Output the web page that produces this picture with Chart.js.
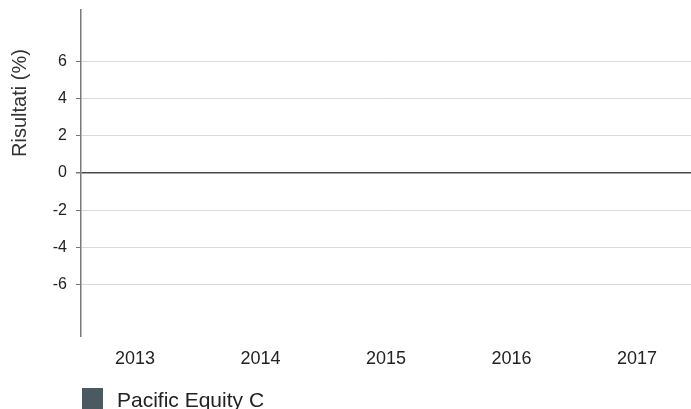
<!DOCTYPE html>
<html>
<head>
<meta charset="utf-8">
<script src="https://cdn.jsdelivr.net/npm/chart.js@4/dist/chart.umd.min.js"></script>
<style>
  html, body { margin: 0; padding: 0; background: #fff; overflow: hidden; }
  #wrap { width: 691px; height: 409px; position: relative; }
</style>
</head>
<body>
<div id="wrap"><canvas id="resultsChart" width="691" height="409"></canvas></div>
<script>
// Years on the x axis and the (empty) yearly results of the fund
const years = ['2013', '2014', '2015', '2016', '2017'];
const results = [null, null, null, null, null];
const yTicks = [-6, -4, -2, 0, 2, 4, 6];
const seriesName = 'Pacific Equity C';
const axisTitle = 'Risultati (%)';

const FONT = "'Liberation Sans', Arial, sans-serif";

// y axis title sits high up, next to the upper ticks
const axisTitlePlugin = {
    id: 'axisTitle',
    afterDraw(chart) {
        const ctx = chart.ctx;
        ctx.save();
        ctx.translate(26, 103);
        ctx.rotate(-Math.PI / 2);
        ctx.font = '20px ' + FONT;
        ctx.fillStyle = '#333';
        ctx.textAlign = 'center';
        ctx.textBaseline = 'alphabetic';
        ctx.fillText(axisTitle, 0, 0);
        ctx.restore();
    }
};

// legend drawn under the axis, partly cut by the bottom edge
const legendPlugin = {
    id: 'bottomLegend',
    afterDraw(chart) {
        const ctx = chart.ctx;
        const ds = chart.data.datasets[0];
        ctx.save();
        ctx.fillStyle = ds.backgroundColor;
        ctx.fillRect(82, 388, 21, 21);
        ctx.font = '21px ' + FONT;
        ctx.fillStyle = '#222';
        ctx.textBaseline = 'alphabetic';
        ctx.fillText(ds.label, 117, 407);
        ctx.restore();
    }
};

const ctx = document.getElementById('resultsChart').getContext('2d');
const resultsChart = new Chart(ctx, {
    type: 'bar',
    data: {
        datasets: [{
            label: seriesName,
            data: results.map((v, i) => ({ x: i, y: v })),
            backgroundColor: '#4b5960'
        }]
    },
    options: {
        responsive: false,
        animation: false,
        layout: { padding: { top: 10, left: 0, right: 0, bottom: 0 } },
        plugins: {
            legend: { display: false },
            tooltip: { enabled: false }
        },
        scales: {
            x: {
                type: 'linear',
                offset: false,
                min: -0.43,
                max: 4.43,
                afterBuildTicks: s => { s.ticks = years.map((y, i) => ({ value: i })); },
                afterFit: s => { s.height = 73; s.paddingLeft = 0; s.paddingRight = 0; },
                grid: { display: false, drawTicks: false },
                border: { display: false },
                ticks: {
                    callback: v => years[v],
                    font: { family: FONT, size: 18 },
                    color: '#222',
                    padding: 12,
                    maxRotation: 0
                }
            },
            y: {
                min: -8.75,
                max: 8.75,
                afterBuildTicks: s => { s.ticks = yTicks.map(v => ({ value: v })); },
                afterFit: s => { s.width = 81; s.paddingTop = 0; s.paddingBottom = 0; },
                grid: {
                    color: c => c.tick && c.tick.value === 0 ? '#4a4a4a' : '#dadada',
                    lineWidth: c => c.tick && c.tick.value === 0 ? 1.5 : 1,
                    tickColor: '#777',
                    tickLength: 5
                },
                border: { display: true, color: '#7a7a7a', width: 1.5 },
                ticks: {
                    font: { family: FONT, size: 16 },
                    color: '#222',
                    padding: 9
                }
            }
        }
    },
    plugins: [axisTitlePlugin, legendPlugin]
});
</script>
</body>
</html>
